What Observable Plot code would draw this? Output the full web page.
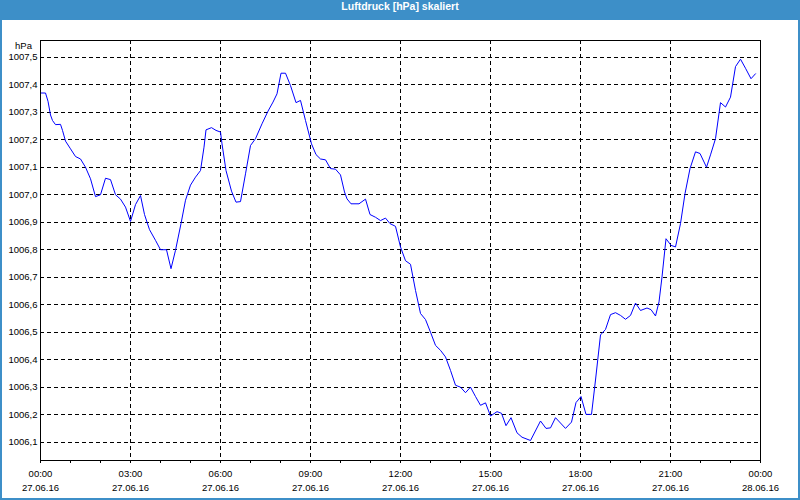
<!DOCTYPE html>
<html><head><meta charset="utf-8">
<script src="https://cdn.jsdelivr.net/npm/d3@7"></script>
<script src="https://cdn.jsdelivr.net/npm/@observablehq/plot@0.6"></script>
<style>
html,body{margin:0;padding:0;background:#fff}
#win{position:relative;width:800px;height:500px;background:#3d8fc8;overflow:hidden}
#title{position:absolute;left:0;top:0;width:800px;height:20px;line-height:20px;text-align:center;color:#fff;font:bold 10.5px "Liberation Sans",Arial,sans-serif}
#chart{position:absolute;left:2px;top:20px;width:796px;height:478px;background:#fff}
#chart svg{display:block}
</style></head><body>
<div id="win"><div id="title">Luftdruck [hPa] skaliert</div><div id="chart"></div></div>
<script>
const startDay = Date.UTC(2016, 5, 27);
// minutes after 27.06.16 00:00
const minutes = [0,10,15,20,24,30,40,44,50,60,70,80,90,100,110,120,130,140,150,160,170,180,190,200,208,218,230,240,252,261,270,281,290,
300,310,320,327,331,342,351,360,363,371,382,391,400,410,420,430,443,455,465,473,481,490,500,511,520,530,542,551,560,570,580,590,
600,608,613,621,637,650,659,670,680,690,699,710,720,730,740,750,760,770,780,790,800,810,820,830,840,850,860,870,880,890,
900,913,922,931,941,953,963,980,1000,1011,1020,1030,1050,1062,1071,1081,1091,1102,1110,1120,1130,1140,1150,1160,1170,1180,1190,1200,
1213,1221,1230,1237,1243,1251,1261,1270,1280,1289,1299,1310,1319,1332,1340,1350,1360,1370,1380,1390,1400,1410,1421,1430];
const pressure = [1007.37,1007.37,1007.34,1007.29,1007.27,1007.255,1007.256,1007.234,1007.195,1007.167,1007.139,1007.13,1007.10,1007.058,1006.993,1007.0,1007.06,1007.055,1007.0,1006.984,1006.955,1006.903,1006.964,1006.997,1006.928,1006.873,1006.834,1006.80,1006.80,1006.731,1006.798,1006.895,1006.98,
1007.035,1007.064,1007.088,1007.173,1007.236,1007.244,1007.234,1007.228,1007.185,1007.088,1007.013,1006.973,1006.975,1007.076,1007.179,1007.204,1007.258,1007.304,1007.337,1007.367,1007.442,1007.442,1007.397,1007.335,1007.343,1007.27,1007.185,1007.146,1007.13,1007.127,1007.095,1007.093,
1007.072,1007.01,1006.985,1006.967,1006.967,1006.984,1006.928,1006.918,1006.906,1006.915,1006.895,1006.885,1006.81,1006.76,1006.747,1006.652,1006.568,1006.546,1006.50,1006.452,1006.434,1006.41,1006.361,1006.307,1006.30,1006.28,1006.30,1006.266,1006.234,1006.243,
1006.195,1006.211,1006.205,1006.16,1006.189,1006.134,1006.118,1006.106,1006.177,1006.15,1006.152,1006.189,1006.15,1006.173,1006.244,1006.266,1006.201,1006.201,1006.326,1006.49,1006.51,1006.564,1006.571,1006.561,1006.547,1006.561,1006.606,1006.579,
1006.588,1006.582,1006.559,1006.61,1006.701,1006.84,1006.816,1006.81,1006.895,1007.004,1007.095,1007.156,1007.15,1007.10,1007.145,1007.204,1007.335,1007.319,1007.355,1007.466,1007.493,1007.46,1007.422,1007.44];

const yTicks = [1006.1,1006.2,1006.3,1006.4,1006.5,1006.6,1006.7,1006.8,1006.9,1007.0,1007.1,1007.2,1007.3,1007.4,1007.5];
const labelHours = [0,3,6,9,12,15,18,21,24];
const labelTimes = ["00:00","03:00","06:00","09:00","12:00","15:00","18:00","21:00","00:00"];
const labelDates = ["27.06.16","27.06.16","27.06.16","27.06.16","27.06.16","27.06.16","27.06.16","27.06.16","28.06.16"];
const tickHours = d3.range(0, 25);
const unitLabel = "hPa";

const H = 3600e3;
const toDate = h => new Date(startDay + h * H);
const data = minutes.map((m, i) => ({time: new Date(startDay + m * 60e3), value: pressure[i]}));
const labelTicks = labelHours.map(toDate);
const gridTicks = labelHours.slice(1, -1).map(toDate);
const hourTicks = tickHours.map(toDate);
const fmtX = d => {
  const i = labelHours.indexOf(Math.round((d - startDay) / H));
  return labelTimes[i] + "\n" + labelDates[i];
};

const plot = Plot.plot({
  width: 796, height: 478,
  marginLeft: 38, marginRight: 38, marginTop: 20, marginBottom: 38,
  style: {fontFamily: "'Liberation Sans', Arial, sans-serif", fontSize: "9.5px", color: "black", background: "white", overflow: "visible"},
  x: {type: "utc", domain: [toDate(0), toDate(24)]},
  y: {domain: [1006.0333, 1007.561]},
  marks: [
    Plot.gridX(gridTicks, {stroke: "black", strokeOpacity: 1, strokeDasharray: "4,3", shapeRendering: "crispEdges"}),
    Plot.gridY(yTicks, {stroke: "black", strokeOpacity: 1, strokeDasharray: "4,3", shapeRendering: "crispEdges"}),
    Plot.axisY(yTicks, {tickSize: 0, tickPadding: 3, tickFormat: d => d.toFixed(1).replace(".", ","), label: null}),
    Plot.text([unitLabel], {frameAnchor: "top-left", dx: -17, dy: 5, textAnchor: "middle", lineAnchor: "middle"}),
    Plot.axisX(hourTicks, {tickSize: 3, tickFormat: () => "", label: null, shapeRendering: "crispEdges"}),
    Plot.axisX(labelTicks, {tickSize: 0, tickPadding: 6, tickFormat: fmtX, lineHeight: 1.5, label: null}),
    Plot.line(data, {x: "time", y: "value", stroke: "#0000ff", strokeWidth: 1}),
    Plot.frame({stroke: "black", shapeRendering: "crispEdges"})
  ]
});
document.getElementById("chart").appendChild(plot);
</script>
</body></html>
